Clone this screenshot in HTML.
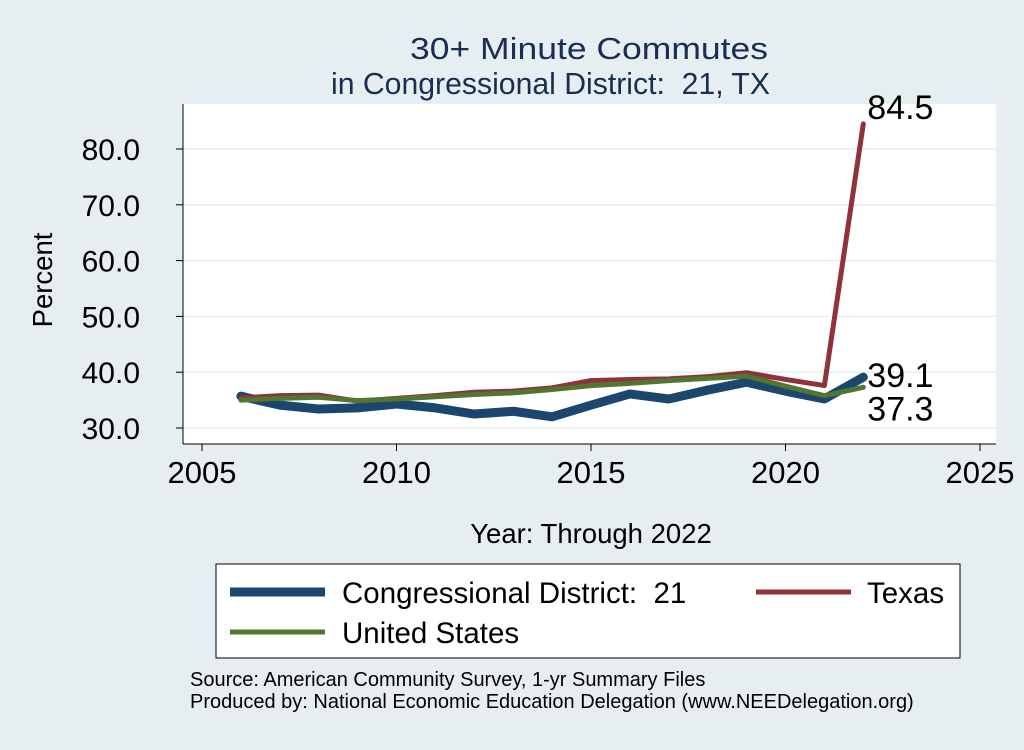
<!DOCTYPE html>
<html><head><meta charset="utf-8"><style>
body{margin:0;background:#e7eef2;font-family:"Liberation Sans",sans-serif}
text{white-space:pre}
</style></head><body>
<svg width="1024" height="745" xmlns="http://www.w3.org/2000/svg" font-family="Liberation Sans, sans-serif" xml:space="preserve">
<rect width="1024" height="745" fill="#e7eef2"/>
<text x="410" y="59" font-size="31" fill="#1a2d52" textLength="358" lengthAdjust="spacingAndGlyphs">30+ Minute Commutes</text>
<text x="331" y="94" font-size="30.5" fill="#1a2d52" textLength="439" lengthAdjust="spacingAndGlyphs">in Congressional District:  21, TX</text>
<rect x="183" y="104" width="813" height="340" fill="#fff"/>
<g id="grid"></g><g id="axes"></g><g id="series"></g>
<text x="52" y="280" font-size="27.5" text-anchor="middle" transform="rotate(-90 52 280)">Percent</text>
<text x="591" y="543" font-size="27.5" text-anchor="middle">Year: Through 2022</text>
<g>
<rect x="216" y="564" width="744" height="94" fill="#fff" stroke="#000" stroke-width="1"/>
<line x1="230" y1="592" x2="325" y2="592" stroke="#1b466e" stroke-width="9"/>
<text x="342" y="603" font-size="29.5">Congressional District:  21</text>
<line x1="756" y1="592" x2="851" y2="592" stroke="#8e3339" stroke-width="5"/>
<text x="867" y="603" font-size="29.5">Texas</text>
<line x1="230" y1="632" x2="325" y2="632" stroke="#527530" stroke-width="5"/>
<text x="342" y="643" font-size="29.5">United States</text>
</g>
<text x="190" y="686" font-size="20">Source: American Community Survey, 1-yr Summary Files</text>
<text x="190" y="708" font-size="20">Produced by: National Economic Education Delegation (www.NEEDelegation.org)</text>
</svg>
<script>
const years=[2006,2007,2008,2009,2010,2011,2012,2013,2014,2015,2016,2017,2018,2019,2020,2021,2022];
const district=[35.7,34.1,33.4,33.6,34.3,33.6,32.5,33.0,32.0,34.1,36.1,35.2,36.8,38.2,36.6,35.2,39.1];
const texas=[35.4,35.8,35.9,34.8,35.3,35.8,36.4,36.6,37.2,38.5,38.7,38.8,39.2,39.9,38.7,37.6,84.5];
const us=[35.0,35.3,35.5,34.9,35.2,35.6,36.0,36.3,36.9,37.6,38.0,38.5,38.9,39.3,37.5,35.8,37.3];
const yTicks=[30,40,50,60,70,80];
const xTicks=[2005,2010,2015,2020,2025];
const NS="http://www.w3.org/2000/svg";
const xs=v=>202+(v-2005)*38.9;
const ys=v=>428-(v-30)*5.58;
function mk(t,a,p){const e=document.createElementNS(NS,t);for(const k in a)e.setAttribute(k,a[k]);p.appendChild(e);return e;}
const grid=document.getElementById('grid'),axes=document.getElementById('axes'),ser=document.getElementById('series');
mk('line',{x1:183,y1:104,x2:183,y2:444,stroke:'#000'},axes);
mk('line',{x1:183,y1:444,x2:996,y2:444,stroke:'#000'},axes);
yTicks.forEach(v=>{
 const g=mk('line',{x1:183,x2:996,y1:ys(v),y2:ys(v),stroke:'#e7eef2','stroke-width':1.5},grid);
 
 
 mk('line',{x1:176,x2:183,y1:ys(v),y2:ys(v),stroke:'#000'},axes);
 const t=mk('text',{x:140,y:ys(v)+11,'font-size':30,'text-anchor':'end'},axes);t.textContent=v.toFixed(1);
 
 
});
xTicks.forEach(v=>{
 mk('line',{x1:xs(v),x2:xs(v),y1:444,y2:451,stroke:'#000'},axes);
 const t=mk('text',{x:xs(v),y:483,'font-size':31,'text-anchor':'middle'},axes);t.textContent=v;
 
 
});
function line(data,color,w,name){
 const p=mk('polyline',{points:years.map((y,i)=>xs(y)+','+ys(data[i])).join(' '),fill:'none',stroke:color,'stroke-width':w,'stroke-linejoin':'round','stroke-linecap':'round'},ser);
 
 
}
line(district,'#1b466e',9,'district-line');
line(texas,'#8e3339',5,'texas-line');
line(us,'#527530',5,'us-line');
const n=years.length-1,lx=xs(years[n])+4;
[[texas[n],-5,'texas-end-label'],[district[n],10,'district-end-label'],[us[n],33,'us-end-label']].forEach(([v,dy,nm])=>{
 const t=mk('text',{x:lx,y:ys(v)+dy,'font-size':34},ser);t.textContent=v.toFixed(1);
 
 
});
</script>
</body></html>
